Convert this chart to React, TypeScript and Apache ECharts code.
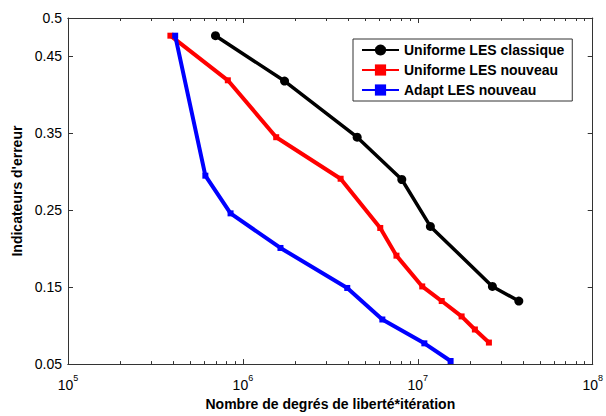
import React, { useEffect, useRef } from "react";
import * as echarts from "echarts";

const seriesNames = ["Uniforme LES classique", "Uniforme LES nouveau", "Adapt LES nouveau"];

const classiqueX = [6.97e5, 1.73e6, 4.5e6, 8.1e6, 1.18e7, 2.67e7, 3.78e7];
const classiqueY = [0.477, 0.418, 0.345, 0.29, 0.229, 0.151, 0.132];

const nouveauX = [3.85e5, 8.2e5, 1.55e6, 3.62e6, 6.1e6, 7.55e6, 1.06e7, 1.37e7, 1.78e7, 2.12e7, 2.55e7];
const nouveauY = [0.477, 0.419, 0.345, 0.291, 0.227, 0.191, 0.151, 0.132, 0.112, 0.095, 0.078];

const adaptX = [4.1e5, 6.1e5, 8.5e5, 1.64e6, 3.95e6, 6.27e6, 1.09e7, 1.54e7];
const adaptY = [0.477, 0.295, 0.246, 0.201, 0.149, 0.108, 0.077, 0.054];

const yTicks = [0.05, 0.15, 0.25, 0.35, 0.45, 0.5];
const xMajor = [1e5, 1e6, 1e7, 1e8];
const xMinor = [
  2e5, 3e5, 4e5, 5e5, 6e5, 7e5, 8e5, 9e5,
  2e6, 3e6, 4e6, 5e6, 6e6, 7e6, 8e6, 9e6,
  2e7, 3e7, 4e7, 5e7, 6e7, 7e7, 8e7, 9e7,
];

const FONT = "'Liberation Sans', Arial, sans-serif";

export default function App() {
  const ref = useRef<HTMLDivElement>(null);
  useEffect(() => {
    if (!ref.current) return;
    const chart = echarts.init(ref.current, null, { renderer: "svg" });
    const zip = (xs: number[], ys: number[]) => xs.map((x, i) => [x, ys[i]]);
    const axisLineStyle = { color: "#333", width: 1 };
    const baseX = {
      type: "log" as const,
      logBase: 10,
      min: 1e5,
      max: 1e8,
      splitLine: { show: false },
      axisLine: { show: true, lineStyle: axisLineStyle, onZero: false },
    };
    chart.setOption({
      animation: false,
      backgroundColor: "#fff",
      grid: { left: 68, right: 11, top: 18, bottom: 48, containLabel: false },
      legend: {
        orient: "vertical",
        left: 353,
        top: 39,
        width: 226,
        padding: [4, 8, 4, 8],
        itemGap: 6,
        itemWidth: 37,
        itemHeight: 14,
        borderColor: "#333",
        borderWidth: 1,
        backgroundColor: "#fff",
        textStyle: { fontFamily: FONT, fontWeight: "bold", fontSize: 14, color: "#000" },
        data: seriesNames,
      },
      xAxis: [
        {
          ...baseX,
          position: "bottom",
          name: "Nombre de degrés de liberté*itération",
          nameLocation: "middle",
          nameGap: 29,
          nameTextStyle: { fontFamily: FONT, fontWeight: "bold", fontSize: 14, color: "#000", verticalAlign: "top" },
          axisTick: { show: true, inside: true, length: 5, lineStyle: axisLineStyle, customValues: xMajor },
          axisLabel: {
            show: true,
            margin: 6,
            customValues: xMajor,
            formatter: (v: number) => `{b|10}{s|${Math.round(Math.log10(v))}}`,
            rich: {
              b: { fontFamily: FONT, fontSize: 14, color: "#000", padding: [8, 0, 0, 0] },
              s: { fontFamily: FONT, fontSize: 9, color: "#000", padding: [0, 0, 6, 0] },
            },
          },
        },
        {
          ...baseX,
          position: "bottom",
          axisTick: { show: true, inside: true, length: 3, lineStyle: axisLineStyle, customValues: xMinor },
          axisLabel: { show: false },
        },
        {
          ...baseX,
          position: "top",
          axisTick: { show: true, inside: true, length: 5, lineStyle: axisLineStyle, customValues: xMajor },
          axisLabel: { show: false },
        },
        {
          ...baseX,
          position: "top",
          axisTick: { show: true, inside: true, length: 3, lineStyle: axisLineStyle, customValues: xMinor },
          axisLabel: { show: false },
        },
      ],
      yAxis: [
        {
          type: "value",
          min: 0.05,
          max: 0.5,
          position: "left",
          name: "Indicateurs d'erreur",
          nameLocation: "middle",
          nameGap: 42,
          nameTextStyle: { fontFamily: FONT, fontWeight: "bold", fontSize: 14, color: "#000" },
          splitLine: { show: false },
          axisLine: { show: true, lineStyle: axisLineStyle, onZero: false },
          axisTick: { show: true, inside: true, length: 5, lineStyle: axisLineStyle, customValues: yTicks },
          axisLabel: {
            show: true,
            margin: 6,
            customValues: yTicks,
            fontFamily: FONT,
            fontSize: 14,
            color: "#000",
            formatter: (v: number) => String(Number(v.toFixed(2))),
          },
        },
        {
          type: "value",
          min: 0.05,
          max: 0.5,
          position: "right",
          splitLine: { show: false },
          axisLine: { show: true, lineStyle: axisLineStyle, onZero: false },
          axisTick: { show: true, inside: true, length: 5, lineStyle: axisLineStyle, customValues: yTicks },
          axisLabel: { show: false },
        },
      ],
      series: [
        {
          name: seriesNames[0],
          type: "line",
          data: zip(classiqueX, classiqueY),
          symbol: "circle",
          symbolSize: 9,
          lineStyle: { color: "#000", width: 3.5 },
          itemStyle: { color: "#000" },
          z: 3,
        },
        {
          name: seriesNames[1],
          type: "line",
          data: zip(nouveauX, nouveauY),
          symbol: "rect",
          symbolSize: 6,
          lineStyle: { color: "#ff0000", width: 4 },
          itemStyle: { color: "#ff0000" },
          z: 2,
        },
        {
          name: seriesNames[2],
          type: "line",
          data: zip(adaptX, adaptY),
          symbol: "rect",
          symbolSize: 6,
          lineStyle: { color: "#0000ff", width: 4 },
          itemStyle: { color: "#0000ff" },
          z: 4,
        },
      ],
    });
    return () => chart.dispose();
  }, []);
  return <div ref={ref} style={{ position: "fixed", left: 0, top: 0, width: 606, height: 416 }} />;
}
